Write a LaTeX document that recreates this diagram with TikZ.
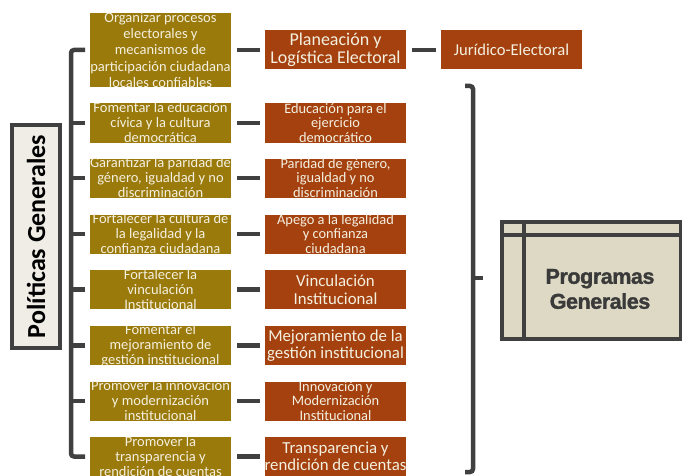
\documentclass[tikz,border=0pt]{standalone}
\usepackage{fontspec}
\setmainfont{Carlito}
\newfontfamily\progfont{Liberation Sans}[BoldFeatures={FakeBold=1.5}, LetterSpace=-2]
\usetikzlibrary{calc}
\definecolor{olivec}{HTML}{9A7A0B}
\definecolor{redc}{HTML}{A4410F}
\definecolor{darkc}{HTML}{404040}
\definecolor{creamc}{HTML}{F4F0E0}
\definecolor{labfill}{HTML}{EFEDE6}
\definecolor{progfill}{HTML}{DDD9C4}
\definecolor{progtext}{HTML}{3A3A3A}
\newcommand\fsO{\fontsize{14.5}{15}\selectfont}
\newcommand\fsOa{\fontsize{14.5}{16.3}\selectfont}
\newcommand\fsR{\fontsize{14.4}{14.5}\selectfont}
\newcommand\fsRb{\fontsize{16.8}{17.5}\selectfont}
\newcommand\fsRa{\fontsize{18}{18}\selectfont}
\tikzset{
  base/.style={inner sep=0pt, outer sep=0pt, minimum width=141pt, minimum height=39pt},
  obox/.style={base, fill=olivec},
  rbox/.style={base, fill=redc},
  say/.style 2 args={path picture={\node[align=center, text=creamc, font=#1, fill=none, draw=none,
      inner sep=0pt, minimum width=0pt, minimum height=0pt] at (path picture bounding box.center) {#2};}},
  conn/.style={draw=darkc, line width=4.5pt, shorten <=6pt, shorten >=5pt},
  brk/.style={draw=darkc, line width=4.5pt, rounded corners=3pt},
  labbox/.style={draw=darkc, line width=4pt, fill=labfill, minimum width=48pt, minimum height=223pt,
      inner sep=0pt, font=\fontsize{26}{26}\selectfont\bfseries},
  progbox/.style={draw=darkc, line width=4.5pt, fill=progfill, minimum width=179pt, minimum height=117pt, inner sep=0pt},
}
\begin{document}
\begin{tikzpicture}[x=1pt, y=-1pt]
\useasboundingbox (0,0) rectangle (682,476);

% left label
\node[labbox] (lab) at (36,236.5) {\rotatebox{90}{Políticas Generales}};

% olive column
\node[obox, minimum height=74pt, say={\fsOa}{Organizar procesos\\electorales y\\mecanismos de\\participación ciudadana\\locales confiables}] (o1) at (160.5,50) {};
\node[obox, say={\fsO}{Fomentar la educación\\cívica y la cultura\\democrática}] (o2) at (160.5,123) {};
\node[obox, say={\fsO}{Garantizar la paridad de\\género, igualdad y no\\discriminación}] (o3) at (160.5,178) {};
\node[obox, say={\fsO}{Fortalecer la cultura de\\la legalidad y la\\confianza ciudadana}] (o4) at (160.5,234) {};
\node[obox, say={\fsO}{Fortalecer la\\vinculación\\Institucional}] (o5) at (160.5,289.5) {};
\node[obox, say={\fsO}{Fomentar el\\mejoramiento de\\gestión institucional}] (o6) at (160.5,345.5) {};
\node[obox, say={\fsO}{Promover la innovación\\y modernización\\institucional}] (o7) at (160.5,401) {};
\node[obox, say={\fsO}{Promover la\\transparencia y\\rendición de cuentas}] (o8) at (160.5,456.5) {};

% red column
\node[rbox, say={\fsRa}{Planeación y\\Logística Electoral}] (r1) at (335.5,50) {};
\node[rbox, say={\fsR}{Educación para el\\ejercicio\\democrático}] (r2) at (335.5,123) {};
\node[rbox, say={\fsR}{Paridad de género,\\igualdad y no\\discriminación}] (r3) at (335.5,178) {};
\node[rbox, say={\fsR}{Apego a la legalidad\\y confianza\\ciudadana}] (r4) at (335.5,234) {};
\node[rbox, say={\fsRb}{Vinculación\\Institucional}] (r5) at (335.5,289.5) {};
\node[rbox, say={\fsRb}{Mejoramiento de la\\gestión institucional}] (r6) at (335.5,345.5) {};
\node[rbox, say={\fsR}{Innovación y\\Modernización\\Institucional}] (r7) at (335.5,401) {};
\node[rbox, say={\fsRb}{Transparencia y\\rendición de cuentas}] (r8) at (335.5,456.5) {};

\node[rbox, say={\fontsize{16.6}{17}\selectfont}{Jurídico-Electoral}] (j1) at (511.5,50) {};

% connectors olive -> red
\foreach \i in {1,...,8} { \draw[conn] (o\i) -- (r\i); }
\draw[conn] (r1) -- (j1);

% left bracket
\coordinate (bx) at (71,0);
\draw[brk] ([xshift=-5pt]o1.west) -- (o1.west -| bx) -- (o8.west -| bx) -- ([xshift=-5pt]o8.west);
\foreach \i in {2,...,7} { \draw[draw=darkc, line width=4.5pt] ([xshift=-5pt]o\i.west) -- (o\i.west -| bx); }
\draw[draw=darkc, line width=4.5pt] ($(lab.east)+(0,8.5)$) -- ($(lab.east)+(0,8.5)$ -| bx);

% programs box
\node[progbox] (prog) at (591.5,280.5) {};
\draw[draw=darkc, line width=4pt] ($(prog.north west)+(0,15)$) -- ($(prog.north east)+(0,15)$);
\draw[draw=darkc, line width=4pt] ($(prog.north west)+(24,0)$) -- ($(prog.south west)+(24,0)$);
\node[align=center, text=progtext, font=\progfont\bfseries\fontsize{21.5}{25}\selectfont] (progt) at (600,289) {Programas\\Generales};

% right bracket
\coordinate (rt) at (465,86);
\coordinate (rb) at (465,472);
\coordinate (rm) at (473,278);
\coordinate (rme) at (483,278);
\draw[brk] (rt) -- ++(8,0) -- ++(0,386) -- (rb);
\draw[draw=darkc, line width=4.5pt] (rm) -- (rme);
\end{tikzpicture}
\end{document}
